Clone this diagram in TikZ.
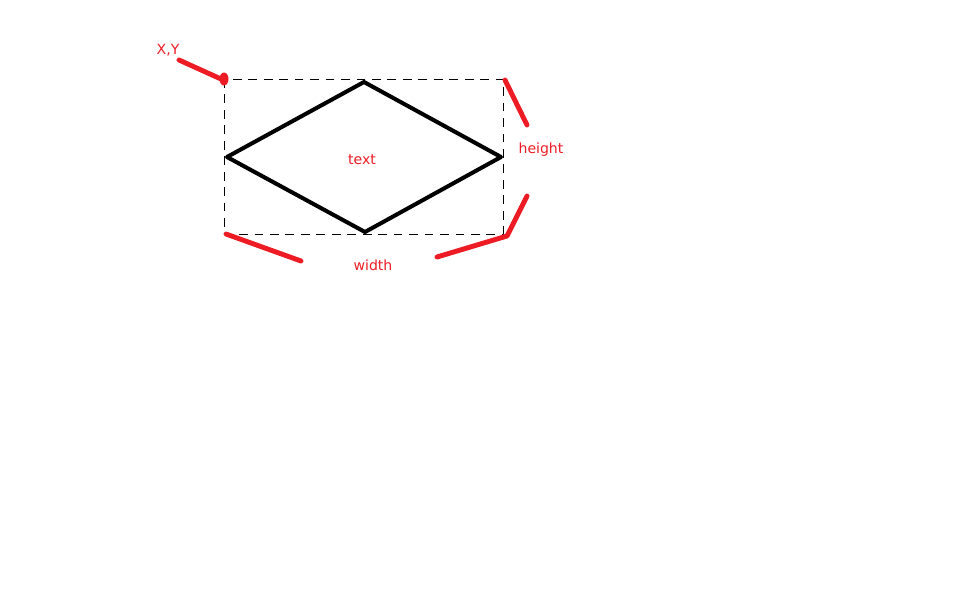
\documentclass[tikz,border=0pt]{standalone}
\usepackage{fontspec}
\setmainfont{DejaVu Sans}
\definecolor{markred}{RGB}{237,28,36}
\tikzset{
  redmark/.style={draw=markred, line width=2.8pt},
  redtext/.style={text=markred, inner sep=0pt},
  guide/.style={line width=0.55pt, dash pattern=on 5pt off 3.8pt}
}
\begin{document}
\begin{tikzpicture}[x=0.02cm, y=-0.02cm, line join=round, line cap=round, font=\fontsize{8}{9}\selectfont]
  \useasboundingbox (0,0) rectangle (959,602);

  % bounding box corners
  \coordinate (TL) at (224,79);
  \coordinate (BR) at (503,234);
  % diamond corners
  \coordinate (L) at (227,157);
  \coordinate (T) at (364,82);
  \coordinate (R) at (501,157);
  \coordinate (B) at (365,232);

  % dashed frame
  \draw[guide, line cap=butt] (TL) rectangle (BR);
  % the diamond
  \draw[line width=2.3pt] (L) -- (T) -- (R) -- (B) -- cycle;

  % red hand marks
  \draw[redmark] (179,60) -- (221,79);
  \fill[markred] (224,79) ellipse (4.5 and 6.5);
  \draw[redmark] (505,80) -- (527,125);
  \draw[redmark] (527,196) -- (507,236) -- (437,257);
  \draw[redmark] (226,234) -- (301,261);

  % labels
  \node[redtext] (xy) at (168,50) {X,Y};
  \node[redtext] (txt) at (362,160) {text};
  \node[redtext] (hgt) at (541,150) {height};
  \node[redtext] (wdt) at (373,265) {width};
\end{tikzpicture}
\end{document}
